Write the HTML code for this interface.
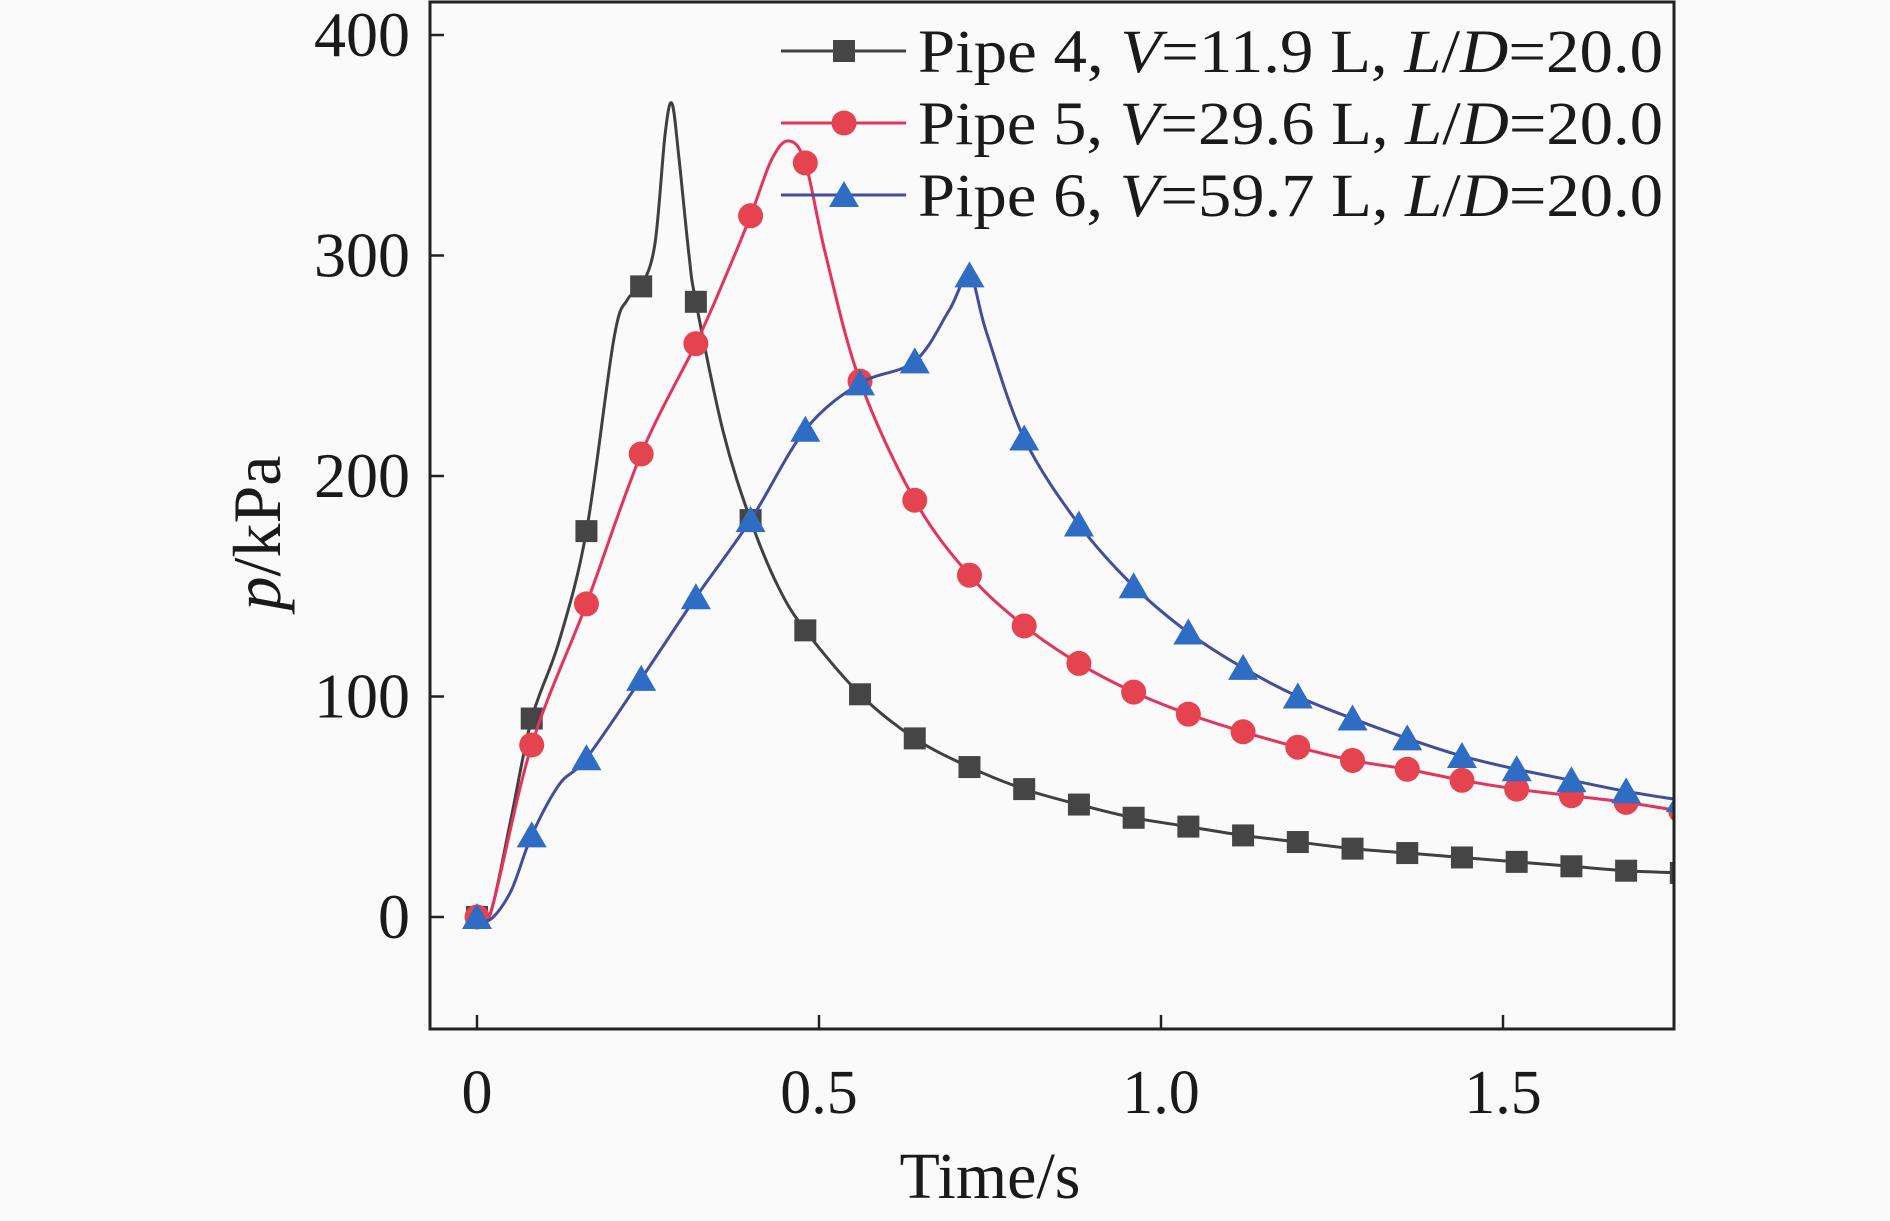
<!DOCTYPE html>
<html><head><meta charset="utf-8"><style>
html,body{margin:0;padding:0;background:#fafafa;}
svg{display:block;font-family:"Liberation Serif",serif;}
</style></head><body>
<svg id="chart" width="1890" height="1221" viewBox="0 0 1890 1221">
<rect x="0" y="0" width="1890" height="1221" fill="#fafafa"/>
<g id="plot"></g>
</svg>
<script>
const xTicks = [0, 0.5, 1.0, 1.5];
const xTickLabels = ["0", "0.5", "1.0", "1.5"];
const yTicks = [0, 100, 200, 300, 400];
const yTickLabels = ["0", "100", "200", "300", "400"];

const p4LineX = [0,0.02,0.05,0.08,0.12,0.16,0.2,0.22,0.24,0.26,0.275,0.285,0.295,0.31,0.32,0.36,0.4,0.44,0.48,0.56,0.64,0.72,0.8,0.88,0.96,1.04,1.12,1.2,1.28,1.36,1.44,1.52,1.6,1.68,1.76];
const p4LineY = [0,2,45,90,125,175,262,280,286,305,355,369,345,300,279,220,180,150,130,101,81,68,58,51,45,41,37,34,31,29,27,25,23,21,20];
const p4MarkX = [0,0.08,0.16,0.24,0.32,0.4,0.48,0.56,0.64,0.72,0.8,0.88,0.96,1.04,1.12,1.2,1.28,1.36,1.44,1.52,1.6,1.68,1.76];
const p4MarkY = [0,90,175,286,279,180,130,101,81,68,58,51,45,41,37,34,31,29,27,25,23,21,20];

const p5LineX = [0,0.02,0.08,0.16,0.24,0.32,0.36,0.4,0.43,0.455,0.48,0.51,0.56,0.64,0.72,0.8,0.88,0.96,1.04,1.12,1.2,1.28,1.36,1.44,1.52,1.6,1.68,1.76];
const p5LineY = [0,2,78,142,210,260,288,318,343,352,342,300,243,189,155,132,115,102,92,84,77,71,67,62,58,55,52,48];
const p5MarkX = [0,0.08,0.16,0.24,0.32,0.4,0.48,0.56,0.64,0.72,0.8,0.88,0.96,1.04,1.12,1.2,1.28,1.36,1.44,1.52,1.6,1.68,1.76];
const p5MarkY = [0,78,142,210,260,318,342,243,189,155,132,115,102,92,84,77,71,67,62,58,55,52,48];

const p6LineX = [0,0.02,0.05,0.08,0.12,0.16,0.24,0.32,0.4,0.48,0.56,0.64,0.69,0.72,0.745,0.8,0.88,0.96,1.04,1.12,1.2,1.28,1.36,1.44,1.52,1.6,1.68,1.76];
const p6LineY = [0,-1,12,37,60,72,108,145,180,221,242,252,275,291,265,217,178,150,129,113,100,90,81,73,67,62,57,53];
const p6MarkX = [0,0.08,0.16,0.24,0.32,0.4,0.48,0.56,0.64,0.72,0.8,0.88,0.96,1.04,1.12,1.2,1.28,1.36,1.44,1.52,1.6,1.68,1.76];
const p6MarkY = [0,37,72,108,145,180,221,242,252,291,217,178,150,129,113,100,90,81,73,67,62,57,53];

const NS = "http://www.w3.org/2000/svg";
const L = 430, R = 1674, T = 2, B = 1029;
function sx(v){ return 477 + v * 684; }
function sy(v){ return 917 - v * 2.205; }
const g = document.getElementById('plot');
function mk(tag, attrs, parent){
  const e = document.createElementNS(NS, tag);
  for (const k in attrs) e.setAttribute(k, attrs[k]);
  (parent || g).appendChild(e);
  return e;
}
const clip = mk('clipPath', {id:'clipArea'});
mk('rect', {x:L, y:T, width:R-L, height:B-T}, clip);

function pathFor(xs, ys){
  const pts = xs.map((x,i)=>[sx(x), sy(ys[i])]);
  let d = 'M' + pts[0][0] + ',' + pts[0][1];
  for (let i=0;i<pts.length-1;i++){
    const p0 = pts[i-1]||pts[i], p1 = pts[i], p2 = pts[i+1], p3 = pts[i+2]||p2;
    const c1 = [p1[0]+(p2[0]-p0[0])/6, p1[1]+(p2[1]-p0[1])/6];
    const c2 = [p2[0]-(p3[0]-p1[0])/6, p2[1]-(p3[1]-p1[1])/6];
    d += 'C' + c1.join(',') + ' ' + c2.join(',') + ' ' + p2.join(',');
  }
  return d;
}
function marker(type, cx, cy, color, parent){
  let e;
  if (type==='square') e = mk('rect', {x:cx-11, y:cy-11, width:22, height:22, fill:color}, parent);
  else if (type==='circle') e = mk('circle', {cx:cx, cy:cy, r:12.5, fill:color}, parent);
  else e = mk('polygon', {points:(cx)+','+(cy-14)+' '+(cx-15)+','+(cy+12)+' '+(cx+15)+','+(cy+12), fill:color}, parent);
  return e;
}
const series = [
  {name:'pipe-4', lx:p4LineX, ly:p4LineY, mx:p4MarkX, my:p4MarkY, line:'#404040', mc:'#454545', type:'square', label:['Pipe 4, ','V','=11.9 L, ','L','/','D','=20.0']},
  {name:'pipe-5', lx:p5LineX, ly:p5LineY, mx:p5MarkX, my:p5MarkY, line:'#e4345c', mc:'#e5434f', type:'circle', label:['Pipe 5, ','V','=29.6 L, ','L','/','D','=20.0']},
  {name:'pipe-6', lx:p6LineX, ly:p6LineY, mx:p6MarkX, my:p6MarkY, line:'#444c9c', mc:'#2f6cc4', type:'tri', label:['Pipe 6, ','V','=59.7 L, ','L','/','D','=20.0']}
];
series.forEach(s=>{
  const sg = mk('g', {'clip-path':'url(#clipArea)'});
  
  
  const p = mk('path', {d:pathFor(s.lx, s.ly), fill:'none', stroke:s.line, 'stroke-width':3}, sg);
  
  
  s.mx.forEach((x,i)=>{
    const m = marker(s.type, sx(x), sy(s.my[i]), s.mc, sg);
    
    
  });
});
const frame = mk('rect', {x:L, y:T, width:R-L, height:B-T, fill:'none', stroke:'#222', 'stroke-width':3});


xTicks.forEach((v,i)=>{
  const t = mk('line', {x1:sx(v), x2:sx(v), y1:B, y2:B-14, stroke:'#222', 'stroke-width':2.5});
  
  
  const lb = mk('text', {x:sx(v), y:B+84, 'text-anchor':'middle', 'font-size':62, fill:'#1a1a1a'});
  lb.textContent = xTickLabels[i];
  
  
});
yTicks.forEach((v,i)=>{
  const t = mk('line', {x1:L, x2:L+14, y1:sy(v), y2:sy(v), stroke:'#222', 'stroke-width':2.5});
  
  
  const lb = mk('text', {x:410, y:sy(v)+21, 'text-anchor':'end', 'font-size':64, fill:'#1a1a1a'});
  lb.textContent = yTickLabels[i];
  
  
});
const xt = mk('text', {x:990, y:1198, 'text-anchor':'middle', 'font-size':66, fill:'#1a1a1a'});
xt.textContent = 'Time/s';


const yt = mk('text', {x:0, y:0, 'text-anchor':'middle', 'font-size':68, fill:'#1a1a1a', transform:'translate(280,533) rotate(-90)'});
const yi = mk('tspan', {'font-style':'italic'}, yt); yi.textContent = 'p';
const yr = mk('tspan', {}, yt); yr.textContent = '/kPa';


series.forEach((s,i)=>{
  const y = 51 + i*72;
  const lg = mk('g', {});
  
  
  mk('line', {x1:781, x2:906, y1:y, y2:y, stroke:s.line, 'stroke-width':3}, lg);
  marker(s.type, 844, y, s.mc, lg);
  const tx = mk('text', {x:918, y:y+21, 'font-size':61, fill:'#1a1a1a', textLength:745, lengthAdjust:'spacingAndGlyphs'}, lg);
  s.label.forEach((part,j)=>{
    const ts = mk('tspan', (j===1||j===3||j===5)?{'font-style':'italic'}:{}, tx);
    ts.textContent = part;
  });
});
</script>
</body></html>
